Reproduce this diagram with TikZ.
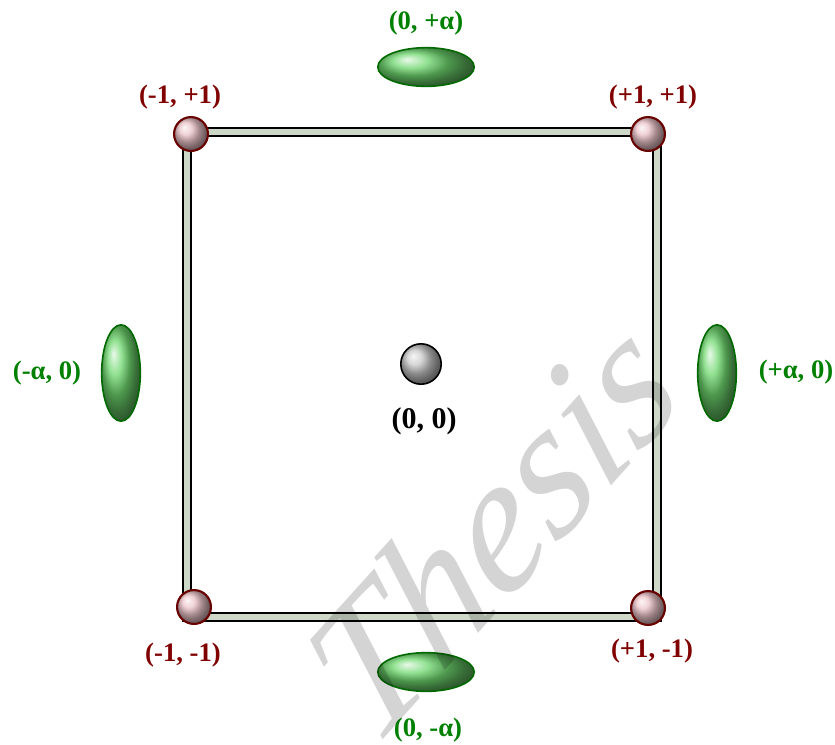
\documentclass[tikz,border=0pt]{standalone}
\usepackage{fontspec}
\setmainfont{Liberation Serif}
\usetikzlibrary{shapes.geometric}
\definecolor{framefill}{RGB}{205,216,200}
\definecolor{cornerred}{RGB}{105,0,0}
\definecolor{labelred}{RGB}{128,0,0}
\definecolor{labelgreen}{RGB}{0,128,0}
\definecolor{ellgreen}{RGB}{0,105,0}
\definecolor{ballred}{RGB}{235,195,200}
\definecolor{ballgreen}{RGB}{110,215,110}
\definecolor{ballgray}{RGB}{200,200,200}
\begin{document}
\begin{tikzpicture}[x=0.75pt,y=-0.75pt,
  cornerball/.style={circle, draw=cornerred, line width=1.6pt, ball color=ballred, minimum size=25.4pt, inner sep=0pt},
  centerball/.style={circle, draw=black, line width=1.2pt, ball color=ballgray, minimum size=30.3pt, inner sep=0pt},
  hell/.style={ellipse, draw=ellgreen, line width=1.2pt, ball color=ballgreen, minimum width=72.3pt, minimum height=29pt, inner sep=0pt},
  vell/.style={ellipse, draw=ellgreen, line width=1.2pt, ball color=ballgreen, minimum width=29pt, minimum height=72.3pt, inner sep=0pt},
  redlabel/.style={text=labelred, font=\bfseries\fontsize{20}{22}\selectfont, inner sep=0pt},
  greenlabel/.style={text=labelgreen, font=\bfseries\fontsize{20}{22}\selectfont, inner sep=0pt},
  blacklabel/.style={text=black, font=\bfseries\fontsize{22.5}{24}\selectfont, inner sep=0pt},
  framebar/.style={line width=6.9pt, black, line join=miter},
  framein/.style={line width=4.6pt, framefill, line join=miter},
  watermark/.style={rotate=48, xslant=0.2, text=black, opacity=0.17, font=\itshape\fontsize{138}{138}\selectfont, anchor=base west, inner sep=0pt}
]
\useasboundingbox (0,0) rectangle (835,744);
% frame
\coordinate (f1) at (187,132);
\coordinate (f2) at (657,617);
\draw[framebar] (f1) rectangle (f2);
\draw[framein] (f1) rectangle (f2);
% corner balls
\node[cornerball] (tl) at (191,134) {};
\node[cornerball] (tr) at (648,134) {};
\node[cornerball] (bl) at (194,607) {};
\node[cornerball] (br) at (648,608) {};
% centre
\node[centerball] (c) at (421,364) {};
% ellipses
\node[hell] (et) at (426,67) {};
\node[hell] (eb) at (426,672) {};
\node[vell] (el) at (121,373) {};
\node[vell] (er) at (717,373) {};
% labels
\node[redlabel] (ltl) at (180,97) {(-1, +1)};
\node[redlabel] (ltr) at (653,97) {(+1, +1)};
\node[redlabel] (lbl) at (183,655) {(-1, -1)};
\node[redlabel] (lbr) at (652,651) {(+1, -1)};
\node[greenlabel] (let) at (426,23) {(0, +α)};
\node[greenlabel] (leb) at (428,730) {(0, -α)};
\node[greenlabel] (lel) at (47,373) {(-α, 0)};
\node[greenlabel] (ler) at (796,372) {(+α, 0)};
\node[blacklabel] (lc) at (424,421) {(0, 0)};
% watermark
\begin{scope}
\clip (0,0) rectangle (835,744);
\node[watermark] (wm) at (372,752) {Thesis};
\end{scope}
\end{tikzpicture}
\end{document}
